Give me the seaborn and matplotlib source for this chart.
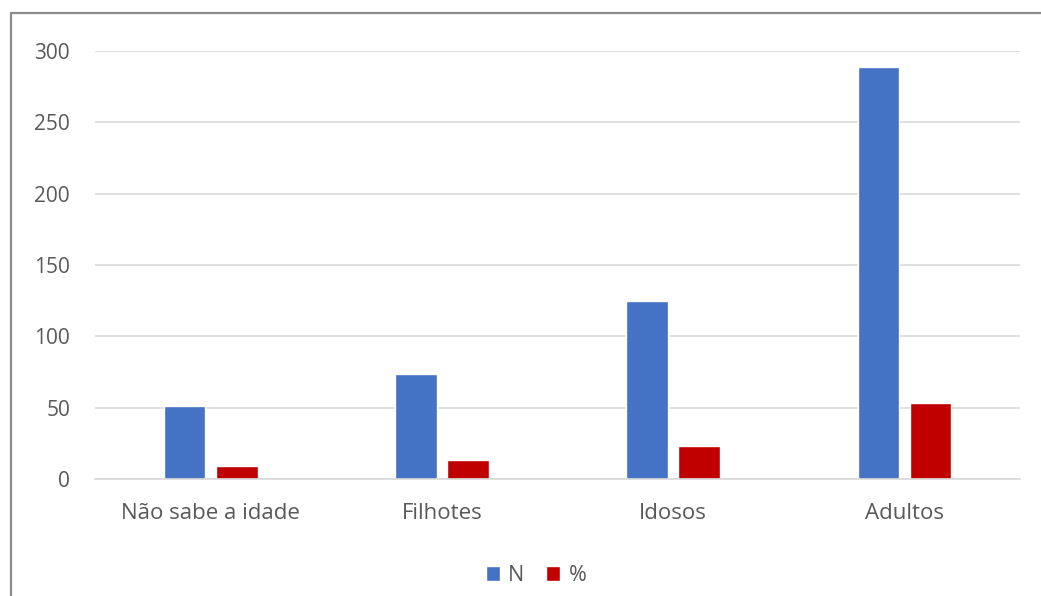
import matplotlib
matplotlib.use("Agg")
import matplotlib.pyplot as plt
import pandas as pd
import seaborn as sns
from matplotlib.lines import Line2D

categorias = ["Não sabe a idade", "Filhotes", "Idosos", "Adultos"]
valores_n = [51, 74, 125, 289]
valores_pct = [9.5, 13.7, 23.2, 53.6]
series = ["N", "%"]
yticks = [0, 50, 100, 150, 200, 250, 300]

df = pd.DataFrame({
    "categoria": categorias * 2,
    "valor": valores_n + valores_pct,
    "serie": [series[0]] * len(categorias) + [series[1]] * len(categorias),
})

sns.set_theme(style="white")
plt.rcParams["font.family"] = ["Open Sans", "DejaVu Sans"]

fig = plt.figure(figsize=(10.41, 5.96), dpi=100)
ax = fig.add_axes([0.0913, 0.196, 0.8887, 0.7184])

sns.barplot(data=df, x="categoria", y="valor", hue="serie", order=categorias,
            hue_order=series, palette=["#4472C4", "#C00000"],
            width=0.45, gap=0.2, saturation=1, ax=ax)

ax.set_ylim(0, 300)
ax.set_yticks(yticks)
ax.set_xlim(-0.5, 3.5)
ax.set_xlabel("")
ax.set_ylabel("")
ax.yaxis.grid(True, color="#d9d9d9", linewidth=1.2)
ax.set_axisbelow(True)
for s in ["top", "right", "left"]:
    ax.spines[s].set_visible(False)
ax.spines["bottom"].set_color("#d9d9d9")
ax.spines["bottom"].set_linewidth(1.2)
ax.tick_params(axis="x", length=0, pad=17, labelsize=16, labelcolor="#595959")
ax.tick_params(axis="y", length=0, pad=18, labelsize=15, labelcolor="#595959")

handles, labels = ax.get_legend_handles_labels()
ax.get_legend().remove()
fig.legend(handles, labels, loc="center", bbox_to_anchor=(0.515, 0.034), ncol=2,
           frameon=False, handlelength=0.65, handleheight=0.65, handletextpad=0.4,
           columnspacing=1.0, fontsize=15.5, labelcolor="#595959")

# moldura cinza do gráfico
fig.add_artist(Line2D([0.0105, 0.0105], [0.0, 0.979], transform=fig.transFigure,
                      color="#8c8c8c", linewidth=1.6))
fig.add_artist(Line2D([0.0105, 1.0], [0.979, 0.979], transform=fig.transFigure,
                      color="#8c8c8c", linewidth=1.6))

fig.savefig("out.png", dpi=100)
